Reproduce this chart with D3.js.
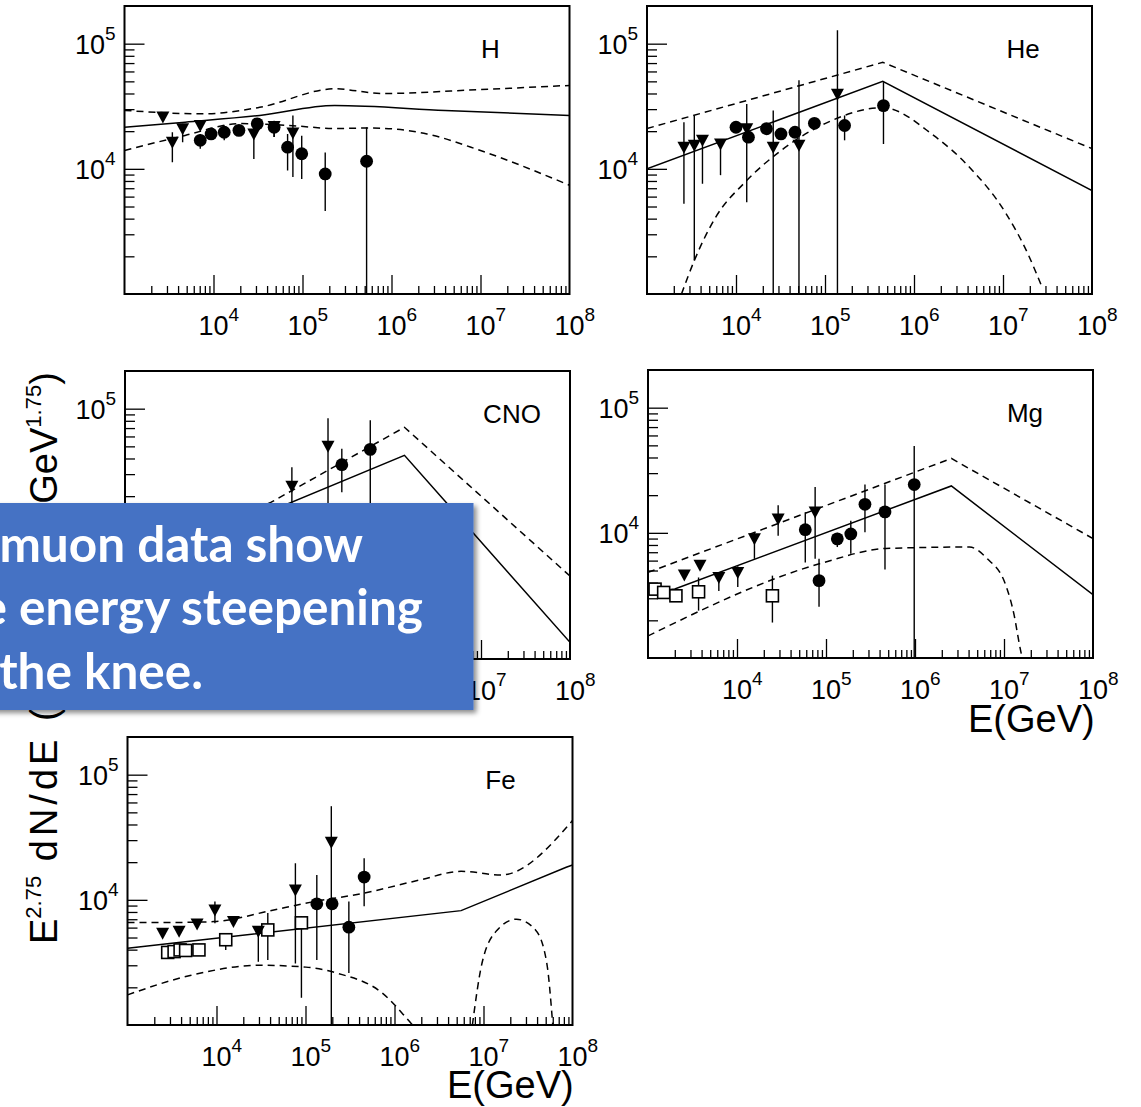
<!DOCTYPE html>
<html>
<head>
<meta charset="utf-8">
<script src="https://cdn.jsdelivr.net/npm/d3@7"></script>
<style>
body{margin:0;background:#fff;}
svg{display:block;font-family:"Liberation Sans",Arial,sans-serif;}
</style>
</head>
<body>
<script>
// axis domains and tick labels
var xDomain=[1e3,1e8];
var yDomain=[1e3,2e5];
var xLabelVals=[1e4,1e5,1e6,1e7,1e8];
var xLabelExp=["4","5","6","7","8"];
var yLabelVals=[1e4,1e5];
var yLabelExp=["4","5"];

// H  (points: [E, value, low, high])
var H_solid=[[1e3,2.15e4],[4.8e3,2.36e4],[3.3e4,2.67e4],[2.3e5,3.2e4],[4e6,2.93e4],[1e8,2.67e4]];
var H_upper=[[1e3,2.93e4],[7.8e3,2.75e4],[3.3e4,3.1e4],[2.3e5,4.36e4],[7.8e5,4.0e4],[1e7,4.3e4],[1e8,4.64e4]];
var H_lower=[[1e3,1.4e4],[4.8e3,1.85e4],[2e4,2.3e4],[8.5e4,2.2e4],[2.3e5,2.1e4],[5.8e5,2.12e4],[2.5e6,1.9e4],[1e7,1.4e4],[1e8,7.4e3]];
var H_tri=[[2.7e3,2.59e4],[3.45e3,1.63e4,1.13e4,1.96e4],[4.5e3,2.09e4,1.63e4,2.29e4],[7.1e3,2.22e4],[2.84e4,1.9e4,1.2e4,2.22e4],[4.8e4,2.18e4,1.8e4,2.3e4],[7.8e4,1.93e4,8.6e3,2.67e4]];
var H_circ=[[7.1e3,1.69e4,1.45e4,1.9e4],[9.4e3,1.9e4],[1.32e4,1.96e4,1.69e4,2.22e4],[1.93e4,2.03e4],[3.1e4,2.29e4],[4.8e4,2.15e4,1.8e4,2.4e4],[6.8e4,1.49e4,9.7e3,1.9e4],[9.8e4,1.32e4,8.3e3,1.84e4],[1.8e5,9.1e3,4.6e3,1.35e4],[5.25e5,1.15e4,1e3,2.15e4]];

// He
var He_solid=[[1e3,1e4],[4.46e5,5.0e4],[1e8,6.7e3]];
var He_upper=[[1e3,2.1e4],[4.46e5,7.1e4],[1e8,1.45e4]];
var He_lower=[[2.44e3,1e3],[3.4e3,1.85e3],[5.9e3,4.1e3],[1.26e4,7.8e3],[3.2e4,1.4e4],[1e5,2.3e4],[4.46e5,3.08e4],[1.66e6,1.85e4],[4.2e6,1.03e4],[1.08e7,4.4e3],[1.9e7,2.1e3],[2.75e7,1.13e3]];
var He_tri=[[2.6e3,1.49e4,5.25e3,2.36e4],[3.4e3,1.54e4,1.85e3,2.67e4],[4.2e3,1.69e4,7.6e3,1.79e4],[6.7e3,1.58e4,8.9e3,1.69e4],[1.32e4,2.09e4,5.4e3,3.3e4],[2.62e4,1.49e4,1e3,2.93e4],[5.1e4,1.54e4,1e3,5.1e4],[1.38e5,3.94e4,1e3,1.28e5]];
var He_circ=[[1e4,2.15e4],[1.38e4,1.79e4],[2.2e4,2.09e4],[3.2e4,1.9e4],[4.6e4,1.96e4],[7.6e4,2.31e4],[1.66e5,2.22e4,1.69e4,2.67e4],[4.54e5,3.2e4,1.58e4,4.93e4]];

// CNO
var CNO_solid=[[1e3,5.0e3],[1.38e6,4.24e4],[1e8,1.36e3]];
var CNO_upper=[[1e3,5.5e3],[4.4e4,1.79e4],[1.38e6,7.1e4],[1e8,4.6e3]];
var CNO_tri=[[7.5e4,2.4e4,1.3e4,3.4e4],[1.91e5,5.0e4,1e4,8.4e4]];
var CNO_circ=[[2.73e5,3.57e4,2.15e4,4.79e4],[5.7e5,4.73e4,1e4,8.1e4]];

// Mg
var Mg_solid=[[1e3,3.35e3],[2.0e3,3.56e3],[2.56e6,2.37e4],[1e8,3.2e3]];
var Mg_upper=[[1e3,4.83e3],[2.56e6,3.93e4],[1e8,9.0e3]];
var Mg_lower=[[1e3,1.5e3],[9.5e4,5.8e3],[4.7e5,7.5e3],[4.1e6,7.7e3],[6.5e6,6.2e3],[1.05e7,3.8e3],[1.3e7,2.2e3],[1.5e7,1.25e3],[1.6e7,1e3]];
var Mg_sq=[[1.2e3,3.55e3],[1.5e3,3.34e3],[2.06e3,3.14e3],[3.7e3,3.38e3,2.39e3,4.4e3],[2.5e4,3.14e3,1.92e3,4.55e3]];
var Mg_tri=[[2.56e3,4.6e3],[3.84e3,5.5e3],[6.25e3,4.4e3,3.43e3,4.6e3],[1.02e4,4.83e3,3.7e3,5.4e3],[1.57e4,8.95e3,6.2e3,1e4],[2.9e4,1.29e4,9.5e3,1.66e4],[7.55e4,1.47e4,6.2e3,2.32e4]];
var Mg_circ=[[5.85e4,1.06e4,5.8e3,1.46e4],[8.35e4,4.15e3,2.57e3,6.2e3],[1.34e5,8.95e3,7.7e3,1e4],[1.9e5,9.8e3,6.8e3,1.25e4],[2.74e5,1.69e4,1.01e4,2.43e4],[4.6e5,1.47e4,5.1e3,2.43e4],[9.8e5,2.43e4,1e3,4.95e4]];

// Fe
var Fe_solid=[[1e3,4.1e3],[5.6e6,8.2e3],[8.5e7,1.82e4],[1e8,1.9e4]];
var Fe_upper=[[1e3,6.6e3],[3.2e3,6.6e3],[9.4e3,6.7e3],[3.8e4,8.1e3],[1e5,9.4e3],[4.5e5,1.13e4],[2e6,1.45e4],[5.6e6,1.69e4],[1.57e7,1.58e4],[1e8,4.3e4]];
var Fe_lower=[[1e3,1.74e3],[5.2e3,2.5e3],[3.1e4,3.0e3],[1.01e5,2.9e3],[2.24e5,2.6e3],[7.3e5,1.8e3],[1.54e6,1.03e3],[1.6e6,1e3]];
var Fe_bump=[[7.5e6,1e3],[9.6e6,3.1e3],[1.43e7,5.75e3],[2.34e7,7e3],[3.84e7,5.75e3],[5.15e7,3.1e3],[6e7,1e3]];
var Fe_tri=[[2.48e3,5.4e3],[3.8e3,5.6e3],[6.05e3,6.4e3],[9.6e3,8.3e3,6.5e3,9.7e3],[1.55e4,6.7e3],[2.95e4,5.6e3,3.2e3,6.1e3],[7.7e4,1.2e4,3.1e3,1.96e4],[1.95e5,2.88e4,1e3,5.6e4]];
var Fe_sq=[[2.83e3,3.8e3],[3.34e3,3.86e3],[3.9e3,3.98e3],[4.5e3,3.94e3],[6.35e3,3.98e3],[1.27e4,4.8e3,3.98e3,5.4e3],[3.77e4,5.75e3,3.3e3,7.85e3],[9e4,6.55e3,1.65e3,7.4e3]];
var Fe_circ=[[1.34e5,9.3e3,3.3e3,1.58e4],[1.99e5,9.3e3],[3.07e5,6.05e3,2.6e3,9.7e3],[4.56e5,1.52e4,8.9e3,2.15e4]];

var boxLines=["The muon data show","little energy steepening","below the knee."];

var W=445, H=288;
var panels=[
  {name:"H",   left:124.5, top:6,   labX:366, lines:[{d:H_solid,dash:false,smooth:true},{d:H_upper,dash:true,smooth:true},{d:H_lower,dash:true,smooth:true}], tri:H_tri, circ:H_circ, sq:[]},
  {name:"He",  left:647,   top:6,   labX:376, lines:[{d:He_solid},{d:He_upper,dash:true},{d:He_lower,dash:true,smooth:true}], tri:He_tri, circ:He_circ, sq:[]},
  {name:"CNO", left:125,   top:371, labX:387, lines:[{d:CNO_solid},{d:CNO_upper,dash:true}], tri:CNO_tri, circ:CNO_circ, sq:[]},
  {name:"Mg",  left:648,   top:370, labX:377, lines:[{d:Mg_solid},{d:Mg_upper,dash:true},{d:Mg_lower,dash:true,smooth:true}], tri:Mg_tri, circ:Mg_circ, sq:Mg_sq},
  {name:"Fe",  left:127.5, top:737, labX:373, lines:[{d:Fe_solid},{d:Fe_upper,dash:true,smooth:true},{d:Fe_lower,dash:true,smooth:true},{d:Fe_bump,dash:true,smooth:true}], tri:Fe_tri, circ:Fe_circ, sq:Fe_sq}
];

var svg=d3.select("body").append("svg").attr("width",1141).attr("height",1107);
var defs=svg.append("defs");
var shadow=defs.append("filter").attr("id","shadow").attr("x","-10%").attr("y","-10%").attr("width","130%").attr("height","130%");
shadow.append("feDropShadow").attr("dx",3).attr("dy",3).attr("stdDeviation",2.5).attr("flood-color","#000").attr("flood-opacity",0.45);

var x=d3.scaleLog().domain(xDomain).range([0,W]);
var y=d3.scaleLog().domain(yDomain).range([H,0]);
var isMajor=function(v){return Math.abs(Math.log10(v)-Math.round(Math.log10(v)))<1e-6;};

panels.forEach(function(p,i){
  var g=svg.append("g").attr("transform","translate("+p.left+","+p.top+")");
  defs.append("clipPath").attr("id","clip"+i).append("rect").attr("width",W).attr("height",H);

  // ticks drawn inward
  var xt=x.ticks().filter(function(v){return v>xDomain[0]&&v<xDomain[1];});
  var yt=y.ticks().filter(function(v){return v>yDomain[0]&&v<yDomain[1];});
  g.append("g").attr("transform","translate(0,"+H+")")
    .call(d3.axisBottom(x).tickValues(xt.filter(function(v){return !isMajor(v);})).tickSize(-8).tickFormat(""));
  g.append("g").attr("transform","translate(0,"+H+")")
    .call(d3.axisBottom(x).tickValues(xt.filter(isMajor)).tickSize(-19).tickFormat(""));
  g.append("g").call(d3.axisLeft(y).tickValues(yt.filter(function(v){return !isMajor(v);})).tickSize(-10).tickFormat(""));
  g.append("g").call(d3.axisLeft(y).tickValues(yt.filter(isMajor)).tickSize(-20).tickFormat(""));
  g.selectAll(".domain").remove();
  g.selectAll(".tick line").attr("stroke","#000").attr("stroke-width",1.3);

  // tick labels 10^n
  xLabelVals.forEach(function(v,k){
    var t=g.append("text").attr("x",x(v)-15).attr("y",H+41).attr("font-size",27).attr("fill","#000");
    t.append("tspan").text("10");
    t.append("tspan").attr("dy",-14).attr("font-size",19).text(xLabelExp[k]);
  });
  yLabelVals.forEach(function(v,k){
    var t=g.append("text").attr("x",-9).attr("y",y(v)+10).attr("text-anchor","end").attr("font-size",27).attr("fill","#000");
    t.append("tspan").text("10");
    t.append("tspan").attr("dy",-14).attr("font-size",19).text(yLabelExp[k]);
  });

  var plot=g.append("g").attr("clip-path","url(#clip"+i+")");
  p.lines.forEach(function(l){
    var line=d3.line().x(function(d){return x(d[0]);}).y(function(d){return y(d[1]);})
      .curve(l.smooth?d3.curveMonotoneX:d3.curveLinear);
    plot.append("path").attr("d",line(l.d)).attr("fill","none").attr("stroke","#000")
      .attr("stroke-width",1.5).attr("stroke-dasharray",l.dash?"7,5":null);
  });

  var all=p.tri.concat(p.circ,p.sq).filter(function(d){return d.length>2;});
  plot.selectAll(".err").data(all).enter().append("line")
    .attr("x1",function(d){return x(d[0]);}).attr("x2",function(d){return x(d[0]);})
    .attr("y1",function(d){return y(d[2]);}).attr("y2",function(d){return y(d[3]);})
    .attr("stroke","#000").attr("stroke-width",1.4);

  plot.selectAll(".sq").data(p.sq).enter().append("rect")
    .attr("x",function(d){return x(d[0])-6;}).attr("y",function(d){return y(d[1])-6;})
    .attr("width",12).attr("height",12).attr("fill","#fff").attr("stroke","#000").attr("stroke-width",1.6);
  plot.selectAll(".tri").data(p.tri).enter().append("path")
    .attr("d","M-6.5,-5.5L6.5,-5.5L0,6.5Z")
    .attr("transform",function(d){return "translate("+x(d[0])+","+y(d[1])+")";}).attr("fill","#000");
  plot.selectAll(".circ").data(p.circ).enter().append("circle")
    .attr("cx",function(d){return x(d[0]);}).attr("cy",function(d){return y(d[1]);})
    .attr("r",6.4).attr("fill","#000");

  g.append("rect").attr("width",W).attr("height",H).attr("fill","none").attr("stroke","#000").attr("stroke-width",2);
  g.append("text").attr("x",p.labX).attr("y",52).attr("text-anchor","middle").attr("font-size",26).attr("fill","#000").text(p.name);
});

// axis titles
svg.append("text").attr("x",968).attr("y",732).attr("font-size",38).attr("fill","#000").text("E(GeV)");
svg.append("text").attr("x",447).attr("y",1098).attr("font-size",38).attr("fill","#000").text("E(GeV)");

var yt=svg.append("text").attr("transform","translate(57,944) rotate(-90)").attr("font-size",38).attr("fill","#000");
yt.append("tspan").text("E");
yt.append("tspan").attr("dy",-16).attr("font-size",22).text("2.75");
yt.append("tspan").attr("dy",16).attr("letter-spacing",4).text(" dN/dE (m");
yt.append("tspan").attr("dy",-16).attr("font-size",22).text("-2");
yt.append("tspan").attr("dy",16).text(" s");
yt.append("tspan").attr("dy",-16).attr("font-size",22).text("-1");
yt.append("tspan").attr("dy",16).text(" sr");
yt.append("tspan").attr("dy",-16).attr("font-size",22).text("-1");
yt.append("tspan").attr("dy",16).attr("dx",24).text(" GeV");
yt.append("tspan").attr("dy",-16).attr("font-size",22).text("1.75");
yt.append("tspan").attr("dy",16).text(")");

// callout box
svg.append("rect").attr("x",-10).attr("y",503).attr("width",483.5).attr("height",207)
  .attr("fill","#4472C4").attr("filter","url(#shadow)");
var lineEnds=[363,423,203];
boxLines.forEach(function(s,k){
  svg.append("text").attr("x",lineEnds[k]).attr("y",562+k*63.3).attr("text-anchor","end")
    .attr("font-family","Lato, 'Open Sans', sans-serif").attr("font-weight",700).attr("font-size",49.5)
    .attr("fill","#fff").text(s);
});
</script>
</body>
</html>
